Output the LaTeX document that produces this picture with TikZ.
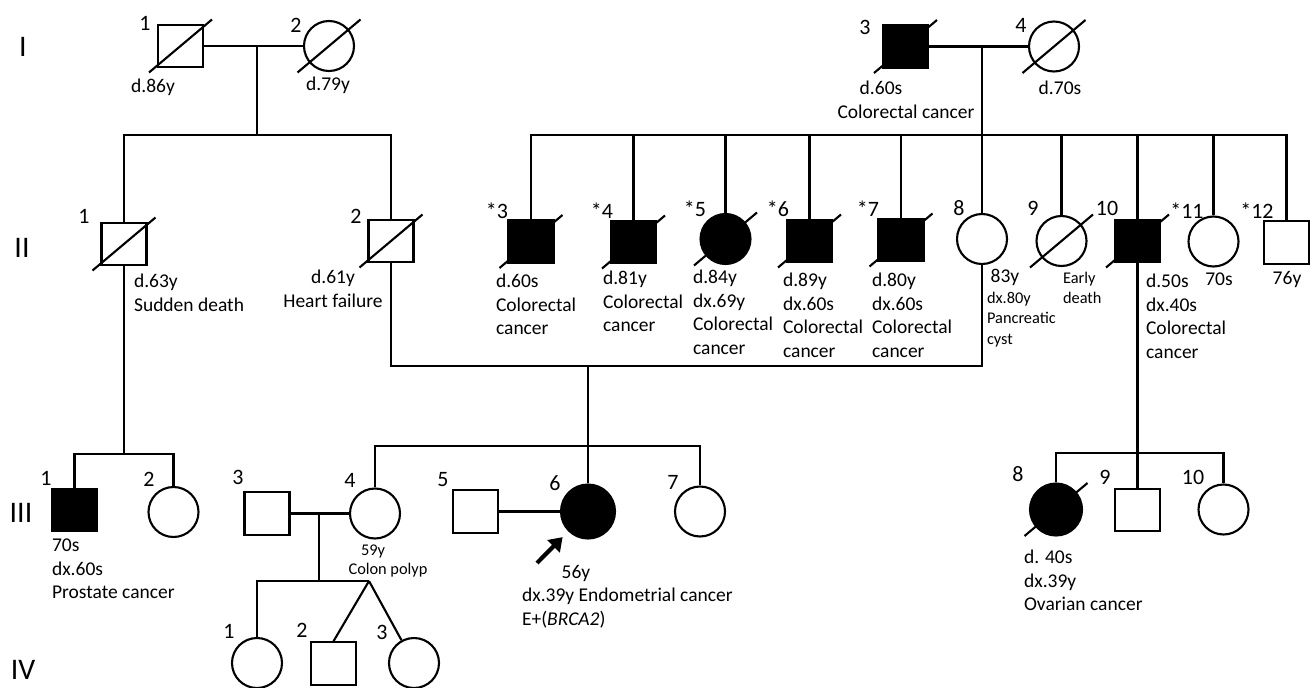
\documentclass[tikz,border=0pt]{standalone}
\usepackage{fontspec}
\setmainfont{Carlito}
\usetikzlibrary{arrows.meta}

\begin{document}
\begin{tikzpicture}[very thick,
        male/.style={draw, rectangle, minimum width=0.90cm, minimum height=0.85cm, inner sep=0pt},
        female/.style={draw, circle, minimum size=1.00cm, inner sep=0pt},
        affected/.style={fill=black},
        num/.style={font=\fontsize{12.5}{14}\selectfont, inner sep=0pt},
        info/.style={font=\fontsize{11.1}{13.4}\selectfont, inner sep=0pt, align=left},
        note/.style={font=\fontsize{9.3}{11.6}\selectfont, inner sep=0pt, align=left},
        gen/.style={font=\fontsize{17}{20}\selectfont, inner sep=0pt},
        proband/.style={line width=2.4pt, -{Triangle[length=0.26cm, width=0.34cm]}, shorten >=0.16cm}]
            % Frame to fix the margins
            \useasboundingbox (0.00, 0.00) rectangle (26.28,-13.74);
            % Generation labels
            \node[gen] (g1) at ( 0.46, -0.94) {I};
            \node[gen] (g2) at ( 0.44, -4.96) {II};
            \node[gen] (g3) at ( 0.42,-10.26) {III};
            \node[gen] (g4) at ( 0.46,-13.40) {IV};
            % Generation I
            \node[male]            (i1)   at ( 3.61, -0.92) {};
            \node[female]          (i2)   at ( 6.58, -0.92) {};
            \node[male, affected]  (i3)   at (18.11, -0.93) {};
            \node[female]          (i4)   at (21.08, -0.93) {};
            \node[num]             (i1n)  at ( 2.90, -0.46) {1};
            \node[num]             (i2n)  at ( 5.92, -0.50) {2};
            \node[num]             (i3n)  at (17.30, -0.54) {3};
            \node[num]             (i4n)  at (20.42, -0.50) {4};
            \node[info]            (i1t)  at ( 3.06, -1.74) {d.86y};
            \node[info]            (i2t)  at ( 6.56, -1.70) {d.79y};
            \node[info]            (i3t)  at (17.62, -1.76) {d.60s};
            \node[info]            (i3u)  at (18.12, -2.24) {Colorectal cancer};
            \node[info]            (i4t)  at (21.20, -1.76) {d.70s};
            \coordinate (m12) at ( 5.14, -0.92);
            \coordinate (m34) at (19.64, -0.93);
            \coordinate (s1)  at ( 5.14, -2.70);
            \coordinate (s2)  at (19.64, -2.70);
            \draw (i1) -- (i2);
            \draw (i3) -- (i4);
            \draw (m12) -- (s1);
            \draw (m34) -- (s2);
            % Generation II
            \node[male]              (ii1)  at ( 2.48, -4.88) {};
            \node[male]              (ii2)  at ( 7.82, -4.82) {};
            \node[male, affected]    (ii3)  at (10.62, -4.83) {};
            \node[male, affected]    (ii4)  at (12.67, -4.84) {};
            \node[female, affected]  (ii5)  at (14.51, -4.78) {};
            \node[male, affected]    (ii6)  at (16.19, -4.82) {};
            \node[male, affected]    (ii7)  at (18.02, -4.80) {};
            \node[female]            (ii8)  at (19.64, -4.78) {};
            \node[female]            (ii9)  at (21.23, -4.82) {};
            \node[male, affected]    (ii10) at (22.75, -4.82) {};
            \node[female]            (ii11) at (24.27, -4.83) {};
            \node[male]              (ii12) at (25.73, -4.85) {};
            \node[num] (ii1n)  at ( 1.68, -4.32) {1};
            \node[num] (ii2n)  at ( 7.12, -4.32) {2};
            \node[num] (ii3n)  at ( 9.94, -4.22) {*3};
            \node[num] (ii4n)  at (12.04, -4.22) {*4};
            \node[num] (ii5n)  at (13.90, -4.18) {*5};
            \node[num] (ii6n)  at (15.56, -4.18) {*6};
            \node[num] (ii7n)  at (17.36, -4.18) {*7};
            \node[num] (ii8n)  at (19.18, -4.16) {8};
            \node[num] (ii9n)  at (20.66, -4.16) {9};
            \node[num] (ii10n) at (22.14, -4.16) {10};
            \node[num] (ii11n) at (23.74, -4.22) {*11};
            \node[num] (ii12n) at (25.14, -4.22) {*12};
            \node[info, anchor=north west]     (ii1t)  at ( 2.66, -5.46) {d.63y\\Sudden death};
            \node[info, align=center, anchor=north] (ii2t) at ( 6.66, -5.38) {d.61y\\Heart failure};
            \node[info, anchor=north west]     (ii3t)  at ( 9.90, -5.46) {d.60s\\Colorectal\\cancer};
            \node[info, anchor=north west]     (ii4t)  at (12.04, -5.40) {d.81y\\Colorectal\\cancer};
            \node[info, anchor=north west]     (ii5t)  at (13.84, -5.38) {d.84y\\dx.69y\\Colorectal\\cancer};
            \node[info, anchor=north west]     (ii6t)  at (15.64, -5.44) {d.89y\\dx.60s\\Colorectal\\cancer};
            \node[info, anchor=north west]     (ii7t)  at (17.42, -5.44) {d.80y\\dx.60s\\Colorectal\\cancer};
            \node[info]                        (ii8t)  at (20.10, -5.54) {83y};
            \node[note, anchor=north west]     (ii8u)  at (19.72, -5.82) {dx.80y\\Pancreatic\\cyst};
            \node[note, anchor=north west]     (ii9t)  at (21.24, -5.42) {Early\\death};
            \node[info, anchor=north west]     (ii10t) at (22.90, -5.46) {d.50s\\dx.40s\\Colorectal\\cancer};
            \node[info]                        (ii11t) at (24.38, -5.58) {70s};
            \node[info]                        (ii12t) at (25.74, -5.58) {76y};
            \draw (ii1.north) |- (s1) -| (ii2.north);
            \draw (ii3.north) |- (s2) -| (ii12.north);
            \foreach \p in {ii4,ii5,ii6,ii7,ii8,ii9,ii10,ii11}
                \draw (\p.north) -- (\p.north |- s2);
            \coordinate (u28) at (11.76, -7.32);
            \draw (ii2.south) |- (u28) -| (ii8.south);
            % Generation III
            \node[male, affected]                     (iii1)  at ( 1.49,-10.20) {};
            \node[female]                             (iii2)  at ( 3.47,-10.24) {};
            \node[male]                               (iii3)  at ( 5.34,-10.27) {};
            \node[female]                             (iii4)  at ( 7.50,-10.27) {};
            \node[male]                               (iii5)  at ( 9.51,-10.23) {};
            \node[female, affected, minimum size=1.08cm] (iii6) at (11.76,-10.23) {};
            \node[female]                             (iii7)  at (14.00,-10.23) {};
            \node[female, affected, minimum size=1.04cm] (iii8) at (21.12,-10.19) {};
            \node[male]                               (iii9)  at (22.75,-10.20) {};
            \node[female]                             (iii10) at (24.47,-10.19) {};
            \node[num] (iii1n)  at ( 0.92, -9.56) {1};
            \node[num] (iii2n)  at ( 2.98, -9.58) {2};
            \node[num] (iii3n)  at ( 4.76, -9.54) {3};
            \node[num] (iii4n)  at ( 7.00, -9.60) {4};
            \node[num] (iii5n)  at ( 8.86, -9.60) {5};
            \node[num] (iii6n)  at (11.10, -9.66) {6};
            \node[num] (iii7n)  at (13.46, -9.64) {7};
            \node[num] (iii8n)  at (20.36, -9.48) {8};
            \node[num] (iii9n)  at (22.10, -9.54) {9};
            \node[num] (iii10n) at (23.86, -9.54) {10};
            \node[info, anchor=north west] (iii1t) at ( 1.02,-10.76) {70s\\dx.60s\\Prostate cancer};
            \node[note]                    (iii4t) at ( 7.46,-11.04) {59y};
            \node[note]                    (iii4u) at ( 7.76,-11.40) {Colon polyp};
            \node[info]                    (iii6t) at (11.52,-11.46) {56y};
            \node[info, anchor=north west] (iii6u) at (10.42,-11.74) {dx.39y Endometrial cancer\\E+(\textit{BRCA2})};
            \node[info, anchor=north west] (iii8t) at (20.46,-10.98) {d. 40s\\dx.39y\\Ovarian cancer};
            \coordinate (s3a) at ( 2.48, -9.08);
            \coordinate (s3b) at (11.76, -8.92);
            \coordinate (s3c) at (22.75, -9.06);
            \draw (ii1.south) -- (s3a);
            \draw (iii1.north) |- (s3a) -| (iii2.north);
            \draw (u28) -- (iii6.north);
            \draw (iii4.north) |- (s3b) -| (iii7.north);
            \draw (ii10.south) -- (iii9.north);
            \draw (iii8.north) |- (s3c) -| (iii10.north);
            \draw (iii3) -- (iii4);
            \draw (iii5) -- (iii6);
            % Proband
            \coordinate (pb) at (10.74,-11.26);
            \draw[proband] (pb) -- (iii6);
            % Generation IV
            \node[female] (iv1) at ( 5.14,-13.26) {};
            \node[male]   (iv2) at ( 6.67,-13.27) {};
            \node[female] (iv3) at ( 8.28,-13.26) {};
            \node[num] (iv1n) at ( 4.58,-12.62) {1};
            \node[num] (iv2n) at ( 6.04,-12.60) {2};
            \node[num] (iv3n) at ( 7.64,-12.64) {3};
            \coordinate (m3) at ( 6.38,-10.27);
            \coordinate (s4) at ( 6.38,-11.62);
            \coordinate (tw) at ( 7.38,-11.62);
            \draw (m3) -- (s4);
            \draw (iv1.north) |- (tw);
            \draw (tw) -- (iv2.north);
            \draw (tw) -- (iv3);
            % Deceased
            \foreach \p in {i1,i2,i3,i4,ii1,ii2,ii3,ii4,ii5,ii6,ii7,ii9,ii10,iii8}
                \draw ([shift={(-0.63,-0.53)}]\p.center) -- ([shift={(0.63,0.53)}]\p.center);
        \end{tikzpicture}
\end{document}
